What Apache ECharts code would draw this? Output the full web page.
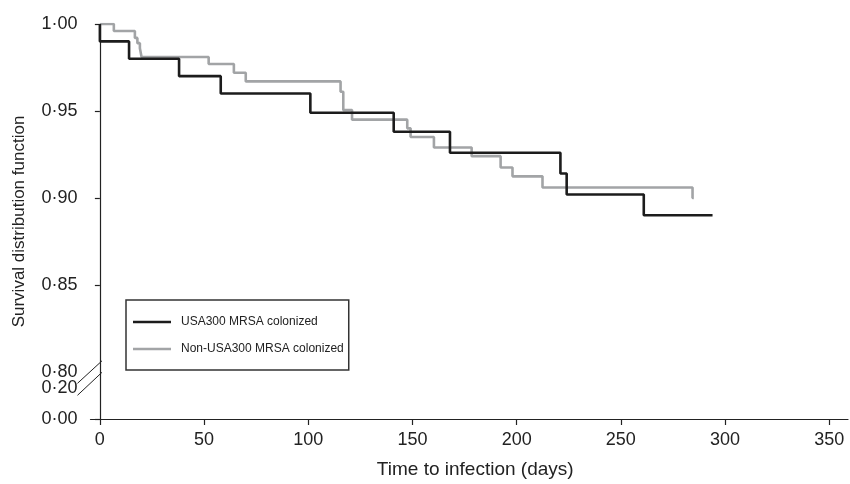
<!DOCTYPE html>
<html><head><meta charset="utf-8">
<script src="https://cdn.jsdelivr.net/npm/echarts@6/dist/echarts.min.js"></script>
<style>html,body{margin:0;padding:0;background:#fff}#c{width:850px;height:484px}</style>
</head><body><div id="c"></div>
<script>
// ---- data ----
const seriesNames = ['USA300 MRSA colonized', 'Non-USA300 MRSA colonized'];
const usaTimes = [0, 0, 14, 38, 58, 101, 141, 168, 221, 224, 261, 294];
const usaSurv  = [1.000, 0.990, 0.980, 0.970, 0.960, 0.949, 0.938, 0.926, 0.914, 0.902, 0.890, 0.890];
const nonTimes = [0, 6.7, 16.8, 18, 19.2, 20, 52.2, 64.3, 70, 115.5, 116.8, 121, 147.5, 149.1, 160.3, 178.4, 192.3, 198, 212.4, 284.4, 285];
const nonSurv  = [1.000, 0.996, 0.992, 0.989, 0.986, 0.981, 0.977, 0.972, 0.967, 0.961, 0.9505, 0.945, 0.940, 0.935, 0.929, 0.924, 0.9175, 0.9124, 0.906, 0.900, 0.900];
const xTickValues = [0, 50, 100, 150, 200, 250, 300, 350];
const yTickValues = [0.00, 0.20, 0.80, 0.85, 0.90, 0.95, 1.00];
const yTickLabels = ['0·00', '0·20', '0·80', '0·85', '0·90', '0·95', '1·00'];

// broken y-axis: piecewise scale
function T(v) {
  if (v <= 0.2) return v / 0.2 * 31.4;
  if (v <= 0.8) return 31.4 + (v - 0.2) / 0.6 * 16;
  return 47.4 + (v - 0.8) * 1746.7;
}
const FONT = 'Liberation Sans, Arial, Helvetica, sans-serif';
function hasFont(name) {
  const c = document.createElement('canvas').getContext('2d');
  c.font = '40px monospace';
  const w1 = c.measureText('abcdefgWMi0123').width;
  c.font = "40px '" + name + "', monospace";
  const w2 = c.measureText('abcdefgWMi0123').width;
  return Math.abs(w1 - w2) > 0.5;
}
const narrow = hasFont('Liberation Sans Narrow');
const legendFont = narrow ? "'Liberation Sans Narrow', " + FONT : FONT;
const legendSize = narrow ? 15 : 12;
const xMin = -4.5, xMax = 359;

const chart = echarts.init(document.getElementById('c'), null, {renderer: 'canvas'});
const option = {
  animation: false,
  backgroundColor: '#fff',
  textStyle: {fontFamily: FONT},
  grid: {left: 90.5, top: 24, right: 2, bottom: 63, containLabel: false},
  legend: {
    orient: 'vertical', left: 126, top: 300,
    data: seriesNames,
    icon: 'rect',
    itemWidth: 38, itemHeight: 2.6, itemGap: 11,
    padding: [14, 5, 13, 7],
    borderColor: '#333', borderWidth: 1.5,
    textStyle: {fontFamily: legendFont, fontSize: legendSize, color: '#222', padding: [0, 0, 0, 5], lineHeight: 16}
  },
  xAxis: {
    type: 'value', min: xMin, max: xMax,
    name: 'Time to infection (days)', nameLocation: 'middle', nameGap: 41,
    nameTextStyle: {fontFamily: FONT, fontSize: 19, color: '#222', padding: [0, 0, 0, 12]},
    axisLine: {lineStyle: {color: '#222', width: 1.2}},
    axisTick: {customValues: xTickValues, length: 6, lineStyle: {color: '#222', width: 1.2}},
    axisLabel: {customValues: xTickValues, fontSize: 18, color: '#222', margin: 12, fontFamily: FONT},
    splitLine: {show: false}
  },
  yAxis: {
    type: 'value', min: 0, max: T(1.0),
    name: 'Survival distribution function', nameLocation: 'middle', nameGap: 63,
    nameTextStyle: {fontFamily: FONT, fontSize: 17, color: '#222'},
    axisLine: {show: true, lineStyle: {color: '#222', width: 1.2}},
    axisTick: {show: true, customValues: [0, 0.85, 0.90, 0.95, 1.00].map(T), length: 5, lineStyle: {color: '#222', width: 1.2}},
    axisLabel: {
      customValues: yTickValues.map(T), fontSize: 18, color: '#222', margin: 13, fontFamily: FONT,
      formatter: function (val) {
        for (let i = 0; i < yTickValues.length; i++) if (Math.abs(T(yTickValues[i]) - val) < 0.01) return yTickLabels[i];
        return '';
      }
    },
    splitLine: {show: false}
  },
  series: [
    {
      name: seriesNames[0], type: 'line', step: 'end', symbol: 'none',
      lineStyle: {color: '#1c1c1c', width: 2.6}, itemStyle: {color: '#1c1c1c'},
      data: usaTimes.map((t, i) => [t, T(usaSurv[i])]), z: 3
    },
    {
      name: seriesNames[1], type: 'line', step: 'end', symbol: 'none',
      lineStyle: {color: '#a2a4a6', width: 2.6}, itemStyle: {color: '#a2a4a6'},
      data: nonTimes.map((t, i) => [t, T(nonSurv[i])]), z: 2
    }
  ]
};
chart.setOption(option);

// axis-break marks, positioned from the axis scales
const ax = chart.convertToPixel({xAxisIndex: 0}, xMin);
const y8 = chart.convertToPixel({yAxisIndex: 0}, T(0.8));
chart.setOption({
  graphic: [
    {type: 'line', shape: {x1: ax - 13, y1: y8 + 11.5, x2: ax + 11.5, y2: y8 - 11}, style: {stroke: '#222', lineWidth: 1}},
    {type: 'line', shape: {x1: ax - 13, y1: y8 + 23.5, x2: ax + 11.5, y2: y8 + 0.5}, style: {stroke: '#222', lineWidth: 1}}
  ]
});
</script>
</body></html>
